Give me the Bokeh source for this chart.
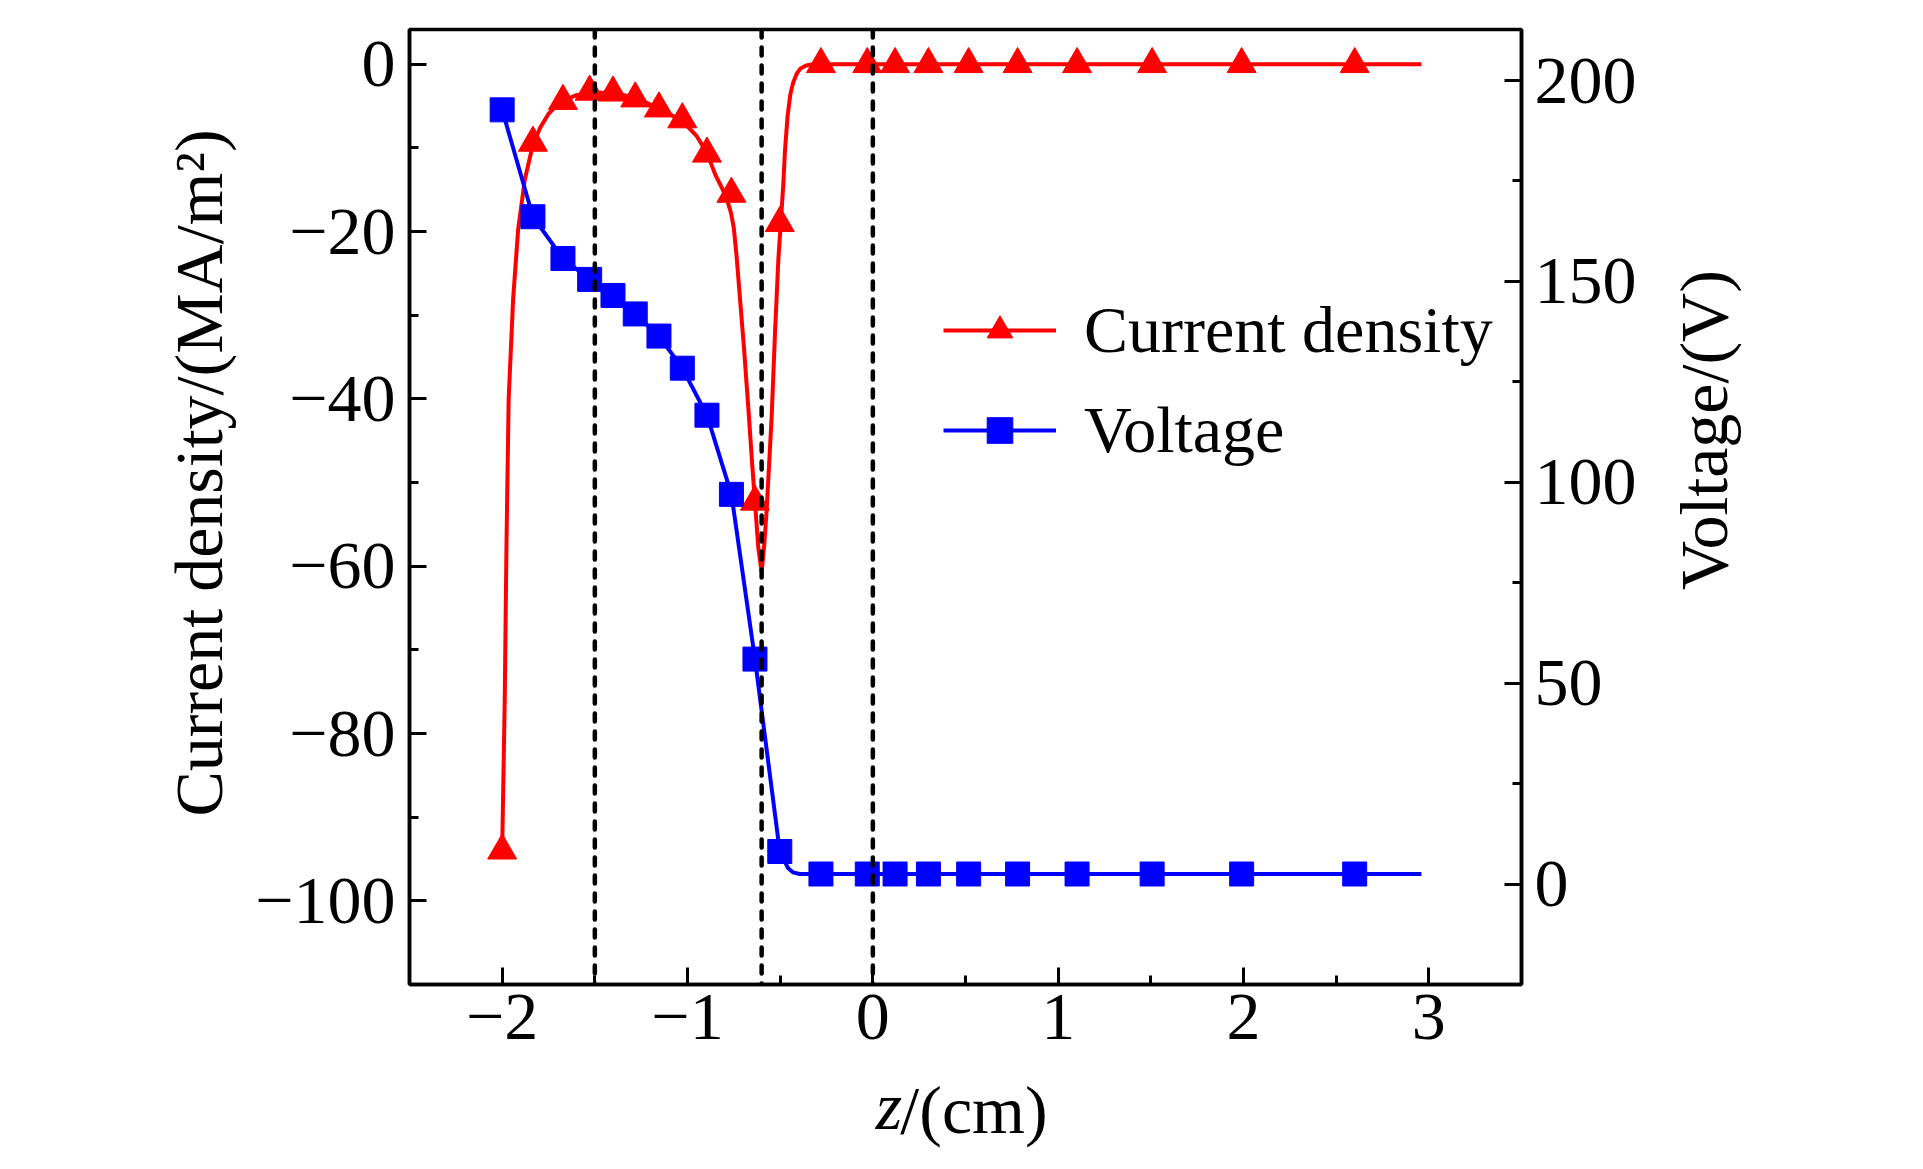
import math
from bokeh.plotting import figure
from bokeh.models import Range1d, LinearAxis, FixedTicker, Span, Legend, LegendItem
from bokeh.embed import file_html
from bokeh.resources import INLINE

# ---- data ----
marker_z = [-2.0, -1.834, -1.672, -1.528, -1.402, -1.282, -1.154, -1.028, -0.895, -0.763,
            -0.636, -0.502, -0.28, -0.03, 0.12, 0.3, 0.517, 0.781, 1.102, 1.507, 1.99, 2.6]
current_markers = [-94.0, -9.4, -4.4, -3.3, -3.4, -4.1, -5.3, -6.6, -10.7, -15.5,
                   -52.3, -19.0, 0, 0, 0, 0, 0, 0, 0, 0, 0, 0]
voltage_markers = [192.7, 166.1, 155.7, 150.5, 146.5, 141.9, 136.4, 128.4, 116.7, 97.0,
                   56.0, 8.1, 2.5, 2.5, 2.5, 2.5, 2.5, 2.5, 2.5, 2.5, 2.5, 2.5]

current_curve_z = [-2.0, -1.986, -1.977, -1.965, -1.941, -1.914, -1.878, -1.834, -1.795, -1.752,
                   -1.705, -1.672, -1.6, -1.528, -1.402, -1.282, -1.154, -1.028, -0.95, -0.895,
                   -0.85, -0.81, -0.785, -0.765, -0.75, -0.735, -0.715, -0.695, -0.672, -0.652,
                   -0.636, -0.618, -0.6, -0.586, -0.573, -0.546, -0.528, -0.51, -0.497, -0.483,
                   -0.474, -0.46, -0.445, -0.43, -0.41, -0.39, -0.36, -0.32, 2.96]
current_curve = [-94.0, -75.7, -57.8, -40.0, -28.1, -19.8, -13.8, -9.6, -7.6, -6.0,
                 -4.9, -4.4, -3.7, -3.4, -3.4, -4.0, -5.3, -6.8, -8.6, -10.6,
                 -13.2, -15.0, -16.3, -17.8, -19.6, -23.0, -28.5, -34.0, -41.0, -47.5,
                 -52.3, -57.8, -60.7, -57.5, -53.3, -42.2, -32.2, -23.4, -19.1, -14.3,
                 -10.3, -6.2, -3.6, -2.2, -1.1, -0.5, -0.15, 0.0, 0.0]

voltage_curve_z = [-2.0, -1.834, -1.672, -1.528, -1.402, -1.282, -1.154, -1.028, -0.895, -0.763,
                   -0.636, -0.502, -0.458, -0.43, -0.396, 2.96]
voltage_curve = [192.7, 166.1, 155.7, 150.5, 146.5, 141.9, 136.4, 128.4, 116.7, 97.0,
                 56.0, 8.1, 4.0, 2.9, 2.5, 2.5]

dashed_z = [-1.5, -0.6, 0.0]

x_ticks = [-2, -1, 0, 1, 2, 3]
x_minor = [-2.5, -1.5, -0.5, 0.5, 1.5, 2.5, 3.5]
x_tick_labels = ["\u22122", "\u22121", "0", "1", "2", "3"]
y_ticks = [-100, -80, -60, -40, -20, 0]
y_minor = [-110, -90, -70, -50, -30, -10]
y_tick_labels = ["\u2212100", "\u221280", "\u221260", "\u221240", "\u221220", "0"]
v_ticks = [0, 50, 100, 150, 200]
v_minor = [-25, 25, 75, 125, 175]
v_tick_labels = ["0", "50", "100", "150", "200"]
v_title_at = [73.2]                      # where the right-hand title starts (volts)
v_title = ["Voltage/(V)"]

NB = "\u00a0"
FONT = "Liberation Serif"
TITLE_SIZE = "68px"
RED = "#ff0000"
BLUE = "#0000ff"

p = figure(width=1915, height=1160, x_range=Range1d(-2.5, 3.5), y_range=Range1d(-110, 4.15),
           output_backend="svg", toolbar_location=None, title=None,
           min_border_left=409, min_border_right=394, min_border_top=29, min_border_bottom=176)
p.extra_y_ranges = {"v": Range1d(-25, 212.7)}
p.grid.visible = False
p.outline_line_color = "black"
p.outline_line_width = 3.5
p.outline_line_alpha = 1.0
p.background_fill_color = "white"
p.border_fill_color = "white"

right = LinearAxis(y_range_name="v")
p.add_layout(right, "right")


def style_axis(ax, ticks, minor, labels, standoff):
    ax.ticker = FixedTicker(ticks=ticks, minor_ticks=minor)
    ax.major_label_overrides = {t: l for t, l in zip(ticks, labels)}
    ax.axis_line_width = 3.5
    ax.axis_line_color = "black"
    ax.major_tick_line_width = 3
    ax.minor_tick_line_width = 3
    ax.major_tick_in = 17
    ax.major_tick_out = 0
    ax.minor_tick_in = 9
    ax.minor_tick_out = 0
    ax.major_label_text_font = FONT
    ax.major_label_text_font_size = "68px"
    ax.major_label_text_color = "black"
    ax.major_label_standoff = standoff
    ax.axis_label_text_font = FONT
    ax.axis_label_text_font_size = TITLE_SIZE
    ax.axis_label_text_font_style = "normal"
    ax.axis_label_text_color = "black"


style_axis(p.xaxis[0], x_ticks, x_minor, x_tick_labels, 10)
style_axis(p.yaxis[0], y_ticks, y_minor, y_tick_labels, 14)
style_axis(right, v_ticks, v_minor, v_tick_labels, 13)

# left axis title (padding moves it up along the axis, as in the reference)
p.yaxis[0].axis_label = NB * 4 + "Current density/(MA/m\u00b2)"
p.yaxis[0].axis_label_standoff = 15

# right title: a bare companion axis whose single rotated label reads bottom-to-top
rt = LinearAxis(y_range_name="v", ticker=FixedTicker(ticks=v_title_at),
                axis_line_color=None, major_tick_line_color=None, minor_tick_line_color=None)
rt.major_label_overrides = {t: l for t, l in zip(v_title_at, v_title)}
rt.major_label_orientation = math.pi / 2
rt.major_label_text_font = FONT
rt.major_label_text_font_size = TITLE_SIZE
rt.major_label_text_color = "black"
rt.major_label_standoff = 59
p.add_layout(rt, "right")

# x axis title: italic "z" on the main axis, "/(cm)" on a bare companion axis
xa = p.xaxis[0]
xa.axis_label = "z" + NB * 9
xa.axis_label_text_font_style = "italic"
xa.axis_label_standoff = 26
xb = LinearAxis(ticker=FixedTicker(ticks=[]), axis_line_color=None,
                major_tick_line_color=None, minor_tick_line_color=None)
xb.axis_label = NB + "/(cm)"
xb.axis_label_text_font = FONT
xb.axis_label_text_font_size = TITLE_SIZE
xb.axis_label_text_font_style = "normal"
xb.axis_label_text_color = "black"
xb.axis_label_standoff = -75
p.add_layout(xb, "below")

for z in dashed_z:
    p.add_layout(Span(location=z, dimension="height", line_color="black",
                      line_width=4.5, line_dash="8 10", line_cap="round"))

r_line = p.line(current_curve_z, current_curve, line_color=RED, line_width=4, line_join="round")
r_mark = p.scatter(marker_z, current_markers, marker="triangle", size=29,
                   fill_color=RED, line_color=RED)
b_line = p.line(voltage_curve_z, voltage_curve, y_range_name="v", line_color=BLUE,
                line_width=4, line_join="round")
b_mark = p.scatter(marker_z, voltage_markers, marker="square", size=24, y_range_name="v",
                   fill_color=BLUE, line_color=BLUE)

legend = Legend(items=[LegendItem(label="Current density", renderers=[r_line, r_mark]),
                       LegendItem(label="Voltage", renderers=[b_line, b_mark])],
                location=(534, 516), padding=0, margin=0, spacing=24,
                glyph_width=113, glyph_height=64, label_height=64, label_standoff=28,
                label_text_font=FONT, label_text_font_size="66px", label_text_color="black",
                border_line_color=None, background_fill_alpha=0)
p.add_layout(legend)

open("out.html", "w").write(file_html(p, INLINE))
